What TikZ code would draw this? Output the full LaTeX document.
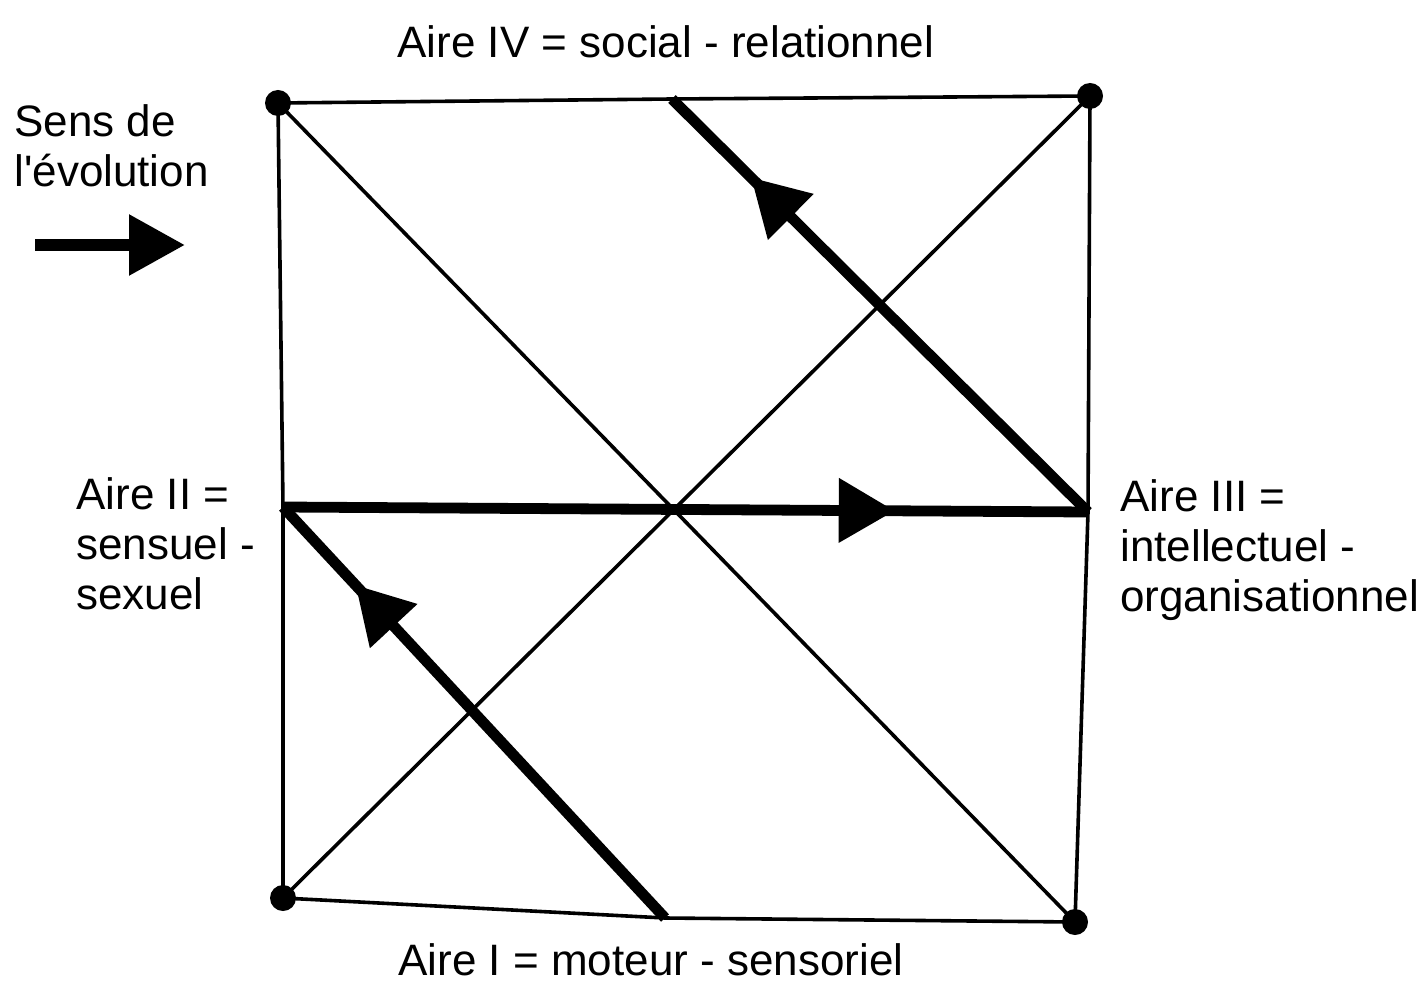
\documentclass[tikz,border=0pt]{standalone}
\usepackage{fontspec}
\setmainfont{Liberation Sans}
\usetikzlibrary{arrows.meta,decorations.markings}

\begin{document}
\begin{tikzpicture}[x=0.5pt,y=0.5pt,yscale=-1,
        thin line/.style={line width=1.8pt},
        thick line/.style={line width=5.4pt},
        corner dot/.style={circle,fill=black,inner sep=0pt,minimum size=13pt},
        aire text/.style={inner sep=0pt,anchor=north west,align=left,font=\fontsize{22}{25}\selectfont},
        mid arrow/.style={postaction={decorate},decoration={markings,mark=at position #1 with {\arrow{Triangle[length=28pt,width=31pt]}}}}]
        \useasboundingbox (0,0) rectangle (1423,994);
        
        %Corners
        \node [corner dot] (tl) at (278,103) {};
        \node [corner dot] (tr) at (1090,96) {};
        \node [corner dot] (bl) at (283,898) {};
        \node [corner dot] (br) at (1075,922) {};
        %Middles of the sides
        \coordinate (tm) at (672,99);
        \coordinate (rm) at (1088,512);
        \coordinate (bm) at (665,918);
        \coordinate (lm) at (283,507);
        
        %Square
        \draw [thin line] (tl.center) -- (tm) -- (tr.center) -- (rm) -- (br.center) -- (bm) -- (bl.center) -- (lm) -- cycle;
        %Diagonals
        \draw [thin line] (tl.center) -- (br.center);
        \draw [thin line] (tr.center) -- (bl.center);
        
        %Evolution path
        \draw [thick line,mid arrow=0.81] (bm) -- (lm);
        \draw [thick line,mid arrow=0.76] (lm) -- (rm);
        \draw [thick line,mid arrow=0.81] (rm) -- (tm);
        
        %Sens de l'evolution
        \coordinate (evo start) at (35,245);
        \coordinate (evo end) at (185,245);
        \draw [line width=6pt,-{Triangle[length=28pt,width=29pt]}] (evo start) -- (evo end);
        
        % Text Node
        \node [aire text] (sens) at (14,104) {Sens de\\l\textquotesingle évolution};
        % Text Node
        \node [aire text] (aire4) at (397,25) {Aire IV = social - relationnel};
        % Text Node
        \node [aire text] (aire2) at (76,477) {Aire II =\\sensuel -\\sexuel};
        % Text Node
        \node [aire text] (aire3) at (1120,479) {Aire III =\\intellectuel -\\organisationnel};
        % Text Node
        \node [aire text] (aire1) at (398,943) {Aire I = moteur - sensoriel};
        
\end{tikzpicture}
\end{document}
